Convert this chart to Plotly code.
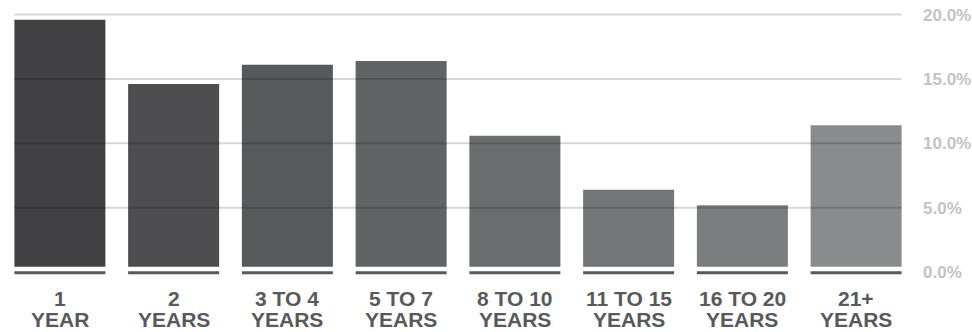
import plotly.graph_objects as go

# ---- data ----
label_top = ["1", "2", "3 TO 4", "5 TO 7", "8 TO 10", "11 TO 15", "16 TO 20", "21+"]
label_bottom = ["YEAR", "YEARS", "YEARS", "YEARS", "YEARS", "YEARS", "YEARS", "YEARS"]
values = [19.6, 14.6, 16.1, 16.4, 10.6, 6.4, 5.2, 11.4]
bar_colors = ["#414143", "#4e4e50", "#58595b", "#626365", "#6b6c6e", "#747577", "#7b7c7e", "#8a8b8d"]
y_ticks = [0, 5, 10, 15, 20]
grid_vals = [5, 10, 15, 20]

gap = 0.42  # visual gap between bar bottom and baseline (in % units)
half_w = 0.4
x_idx = list(range(len(values)))

fig = go.Figure()
fig.add_trace(go.Bar(
    x=x_idx,
    y=[v - gap for v in values],
    base=[gap] * len(values),
    width=2 * half_w,
    marker=dict(color=bar_colors, line=dict(width=0)),
    hoverinfo="skip",
))

shapes = []
# gridlines over bars
for g in grid_vals:
    shapes.append(dict(type="line", xref="x", yref="y", x0=-half_w, x1=len(values) - 1 + half_w,
                       y0=g, y1=g, line=dict(color="rgba(0,0,0,0.16)", width=2), layer="above"))
# baseline segments under each bar
for i in x_idx:
    shapes.append(dict(type="line", xref="x", yref="y", x0=i - half_w, x1=i + half_w,
                       y0=-0.05, y1=-0.05, line=dict(color="#58595b", width=3), layer="above"))

annotations = []
for i in x_idx:
    annotations.append(dict(x=i, y=0, xref="x", yref="y", text=label_top[i], showarrow=False,
                            yanchor="middle", xanchor="center", yshift=-26.2,
                            font=dict(family="Liberation Sans", size=21, color="#58595b", weight="bold")))
    annotations.append(dict(x=i, y=0, xref="x", yref="y", text=label_bottom[i], showarrow=False,
                            yanchor="middle", xanchor="center", yshift=-47.5,
                            font=dict(family="Liberation Sans", size=21, color="#58595b", weight="bold")))

fig.update_layout(
    width=972, height=332,
    margin=dict(l=2.6, r=58.5, t=12.4, b=55.8, autoexpand=False),
    paper_bgcolor="white", plot_bgcolor="white",
    showlegend=False,
    shapes=shapes,
    annotations=annotations,
    xaxis=dict(range=[-0.5, len(values) - 0.5], showticklabels=False, showgrid=False,
               zeroline=False, showline=False, ticks="", automargin=False),
    yaxis=dict(range=[-0.3, 20.2], side="right", tickvals=y_ticks,
               ticktext=[f"{t:.1f}%" for t in y_ticks],
               showgrid=False, zeroline=False, showline=False, ticks="",
               ticklabelstandoff=9, automargin=False,
               tickfont=dict(family="Liberation Sans", size=17, color="#c3c3c3", weight="bold")),
)

fig.write_html("out.html")
